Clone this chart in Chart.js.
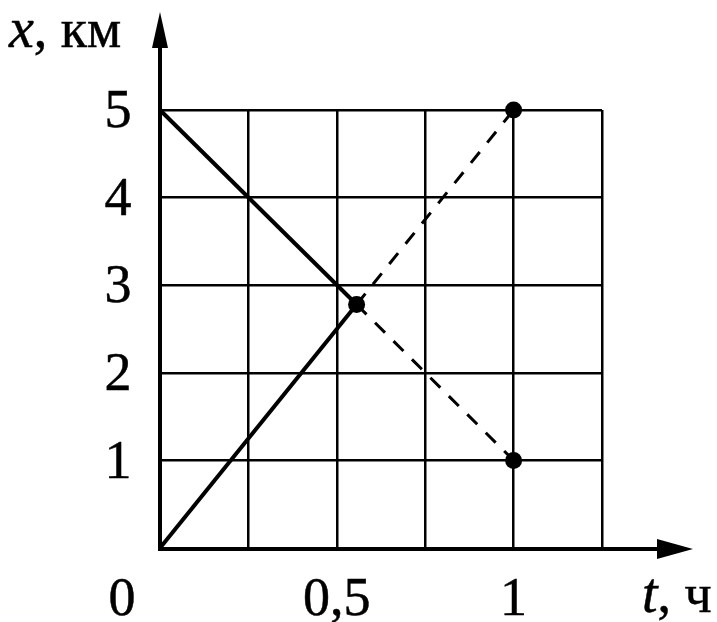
<!DOCTYPE html>
<html>
<head>
<meta charset="utf-8">
<script src="https://cdn.jsdelivr.net/npm/chart.js@4/dist/chart.umd.min.js"></script>
<style>
  html, body { margin: 0; padding: 0; background: #fff; }
  #chart { display: block; }
</style>
</head>
<body>
<canvas id="chart" width="717" height="622"></canvas>
<script>
/* ===== chart data ===== */
// t in hours, x in km
var meetT = 0.556, meetX = 2.78;
var firstBody = [{x: 0, y: 5}, {x: meetT, y: meetX}];      // solid, going down
var secondBody = [{x: 0, y: 0}, {x: meetT, y: meetX}];     // solid, going up
var firstDashed = [{x: meetT, y: meetX}, {x: 1, y: 1}];
var secondDashed = [{x: meetT, y: meetX}, {x: 1, y: 5}];
var markers = [{x: meetT, y: meetX}, {x: 1, y: 5}, {x: 1, y: 1}];

var yTickValues = [5, 4, 3, 2, 1];
var yTickLabels = ['5', '4', '3', '2', '1'];
var xTickValues = [0.5, 1];
var xTickLabels = ['0,5', '1'];
var originLabel = '0';
var yAxisName = ['x', ', км'];
var xAxisName = ['t', ', ч'];

var FONT = '"Liberation Serif", "Times New Roman", serif';

// text a touch heavier, like the scanned figure
function heavyText(c, txt, x, y) {
    c.fillText(txt, x, y);
    c.strokeText(txt, x, y);
}

/* ==== axes, arrows and texts ==== */
var axesPlugin = {
    id: 'axesPlugin',
    beforeDatasetsDraw: function(chart) {
        var c = chart.ctx;
        var xs = chart.scales.x, ys = chart.scales.y;
        var x0 = xs.getPixelForValue(0), y0 = ys.getPixelForValue(0);
        c.save();
        c.strokeStyle = '#000';
        c.fillStyle = '#000';
        c.lineWidth = 4;
        c.lineCap = 'butt';
        // vertical axis
        c.beginPath();
        c.moveTo(x0, y0 + 2);
        c.lineTo(x0, 45);
        c.stroke();
        c.beginPath();
        c.moveTo(x0, 12);
        c.lineTo(x0 - 8, 48);
        c.lineTo(x0 + 8, 48);
        c.closePath();
        c.fill();
        // horizontal axis
        c.beginPath();
        c.moveTo(x0 - 2, y0 + 1);
        c.lineTo(660, y0 + 1);
        c.stroke();
        c.beginPath();
        c.moveTo(693, y0 + 1);
        c.lineTo(657, y0 - 9);
        c.lineTo(657, y0 + 11);
        c.closePath();
        c.fill();
        c.restore();
    },
    afterDraw: function(chart) {
        var c = chart.ctx;
        var xs = chart.scales.x, ys = chart.scales.y;
        c.save();
        c.fillStyle = '#000';
        c.strokeStyle = '#000';
        c.lineWidth = 0.5;
        c.font = '54px ' + FONT;
        c.textAlign = 'center';
        c.textBaseline = 'middle';
        for (var i = 0; i < yTickValues.length; i++) {
            heavyText(c, yTickLabels[i], 118, ys.getPixelForValue(yTickValues[i]) + 3);
        }
        c.textBaseline = 'alphabetic';
        heavyText(c, originLabel, 122, 615);
        for (var j = 0; j < xTickValues.length; j++) {
            heavyText(c, xTickLabels[j], xs.getPixelForValue(xTickValues[j]), 615);
        }
        // axis names: italic letter + regular unit
        c.textAlign = 'left';
        c.font = 'italic 56px ' + FONT;
        heavyText(c, yAxisName[0], 9, 47);
        var w = c.measureText(yAxisName[0]).width;
        c.font = '54px ' + FONT;
        heavyText(c, yAxisName[1], 9 + w, 47);

        c.font = 'italic 56px ' + FONT;
        heavyText(c, xAxisName[0], 642, 612);
        w = c.measureText(xAxisName[0]).width;
        c.font = '54px ' + FONT;
        heavyText(c, xAxisName[1], 642 + w, 612);
        c.restore();
    }
};

function lineSet(points, dashed) {
    return {
        data: points,
        showLine: true,
        borderColor: '#000',
        borderWidth: dashed ? 3 : 4,
        borderDash: dashed ? [14, 12] : [],
        pointRadius: 0,
        pointHoverRadius: 0,
        clip: false
    };
}

var ctx = document.getElementById('chart');
var chart = new Chart(ctx, {
    type: 'scatter',
    data: {
        datasets: [
            lineSet(firstBody, false),
            lineSet(secondBody, false),
            lineSet(firstDashed, true),
            lineSet(secondDashed, true),
            {
                data: markers,
                pointRadius: 8.5,
                pointBackgroundColor: '#000',
                pointBorderColor: '#000',
                pointBorderWidth: 0,
                showLine: false,
                clip: false
            }
        ]
    },
    options: {
        responsive: false,
        animation: false,
        events: [],
        layout: { padding: { left: 160, right: 115, top: 110, bottom: 74 } },
        plugins: { legend: { display: false }, tooltip: { enabled: false } },
        scales: {
            x: {
                type: 'linear', min: 0, max: 1.25,
                ticks: { display: false, stepSize: 0.25 },
                grid: { color: '#000', lineWidth: 2.5, drawTicks: false },
                border: { display: false },
                afterFit: function(s) { s.height = 0; }
            },
            y: {
                type: 'linear', min: 0, max: 5,
                ticks: { display: false, stepSize: 1 },
                grid: { color: '#000', lineWidth: 2.5, drawTicks: false },
                border: { display: false },
                afterFit: function(s) { s.width = 0; }
            }
        }
    },
    plugins: [axesPlugin]
});
</script>
</body>
</html>
